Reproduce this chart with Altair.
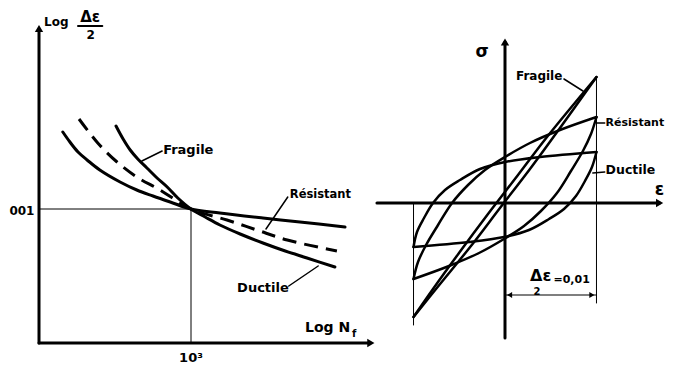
import altair as alt
import pandas as pd

# ---------------- Left panel: log(Δε/2) vs log Nf ----------------
LOGN_STEEP = [1.52, 1.66, 1.80, 1.95, 2.13, 2.33, 2.53, 2.74, 3.0, 3.28, 3.57, 3.97, 4.42, 4.86, 5.29, 5.84]
LOGE_STEEP = [-0.34, -0.60, -0.82, -1.00, -1.18, -1.38, -1.56, -1.78, -2.0, -2.16, -2.32, -2.50, -2.68, -2.84, -2.98, -3.16]

LOGN_FLAT = [0.47, 0.61, 0.77, 0.95, 1.20, 1.60, 1.93, 2.25, 2.59, 3.0, 3.57, 4.42, 5.15, 6.04]
LOGE_FLAT = [-0.46, -0.66, -0.86, -1.02, -1.22, -1.46, -1.62, -1.74, -1.86, -2.0, -2.08, -2.18, -2.26, -2.36]

LOGN_DASH = [0.79, 1.16, 1.54, 1.93, 2.39, 3.0, 3.71, 4.30, 4.90, 5.88]
LOGE_DASH = [-0.20, -0.68, -1.06, -1.36, -1.62, -2.0, -2.22, -2.42, -2.62, -2.84]

REF_LOGN = 3.0      # 10^3
REF_LOGE = -2.0     # 0.01
AXIS_Y_BOTTOM = -4.68
AXIS_Y_TOP = 1.56
AXIS_X_RIGHT = 6.50

# ---------------- Right panel: σ vs ε loops ----------------
EPS_FRAG_UP = [-1.0, -0.710, -0.372, -0.055, 0.273, 0.601, 1.0]
SIG_FRAG_UP = [-570, -405, -215, -25, 170, 375, 630]
EPS_FRAG_DN = [1.0, 0.459, 0.142, -0.186, -0.503, -0.787, -1.0]
SIG_FRAG_DN = [630, 330, 140, -55, -250, -430, -570]

EPS_RES_UP = [-1.0, -0.951, -0.863, -0.732, -0.579, -0.404, -0.219, 0.0, 0.273, 0.601, 1.0]
SIG_RES_UP = [-380, -295, -210, -110, 0, 90, 165, 230, 300, 365, 430]
EPS_RES_DN = [1.0, 0.940, 0.852, 0.721, 0.568, 0.393, 0.208, -0.011, -0.284, -0.612, -1.0]
SIG_RES_DN = [430, 345, 260, 160, 50, -40, -115, -180, -250, -315, -380]

EPS_DUC_UP = [-1.0, -0.962, -0.885, -0.787, -0.656, -0.492, -0.273, 0.0, 0.383, 1.0]
SIG_DUC_UP = [-220, -145, -75, 0, 65, 115, 170, 205, 230, 255]
EPS_DUC_DN = [1.0, 0.951, 0.874, 0.776, 0.645, 0.481, 0.262, -0.011, -0.393, -1.0]
SIG_DUC_DN = [255, 180, 110, 35, -30, -80, -135, -170, -195, -220]

HALF_RANGE = 1.0          # Δε/2 = 0,01 (in %)
EPS_AXIS = [-1.40, 1.69]
SIG_AXIS = [-675, 805]

FONT = "DejaVu Sans"

X1 = alt.Scale(domain=[-0.612, 6.612], nice=False, zero=False)
Y1 = alt.Scale(domain=[-5.06, 2.02], nice=False, zero=False)
X2 = alt.Scale(domain=[-1.432, 1.760], nice=False, zero=False)
Y2 = alt.Scale(domain=[-795, 975], nice=False, zero=False)


def curve(xs, ys, xs_scale, ys_scale, width=3, dash=None, interp="catmull-rom"):
    df = pd.DataFrame({"x": xs, "y": ys, "i": list(range(len(xs)))})
    kw = dict(color="black", strokeWidth=width, interpolate=interp, strokeCap="round")
    if dash:
        kw["strokeDash"] = dash
        kw["strokeCap"] = "butt"
    return alt.Chart(df).mark_line(**kw).encode(
        x=alt.X("x:Q", scale=xs_scale, axis=None),
        y=alt.Y("y:Q", scale=ys_scale, axis=None),
        order="i:Q",
    )


def seg(x1, y1, x2, y2, xs, ys, width=1):
    return curve([x1, x2], [y1, y2], xs, ys, width=width, interp="linear")


def label(x, y, t, xs, ys, size=11, align="left", weight="bold", baseline="middle"):
    df = pd.DataFrame({"x": [x], "y": [y], "t": [t]})
    return alt.Chart(df).mark_text(
        font=FONT, fontSize=size, fontWeight=weight, align=align, baseline=baseline, color="black"
    ).encode(
        x=alt.X("x:Q", scale=xs, axis=None),
        y=alt.Y("y:Q", scale=ys, axis=None),
        text="t:N",
    )


def arrow(x, y, shape, xs, ys, size=70):
    df = pd.DataFrame({"x": [x], "y": [y]})
    return alt.Chart(df).mark_point(
        shape=shape, filled=True, size=size, color="black", opacity=1, strokeWidth=0
    ).encode(
        x=alt.X("x:Q", scale=xs, axis=None),
        y=alt.Y("y:Q", scale=ys, axis=None),
    )


left = alt.layer(
    # axes
    seg(0, AXIS_Y_BOTTOM, 0, AXIS_Y_TOP, X1, Y1, width=3),
    seg(0, AXIS_Y_BOTTOM, AXIS_X_RIGHT, AXIS_Y_BOTTOM, X1, Y1, width=3),
    arrow(0, AXIS_Y_TOP + 0.05, "triangle-up", X1, Y1),
    arrow(AXIS_X_RIGHT + 0.05, AXIS_Y_BOTTOM, "triangle-right", X1, Y1),
    # reference guides
    seg(0, REF_LOGE, REF_LOGN, REF_LOGE, X1, Y1, width=1),
    seg(REF_LOGN, REF_LOGE, REF_LOGN, AXIS_Y_BOTTOM, X1, Y1, width=1),
    # curves
    curve(LOGN_STEEP, LOGE_STEEP, X1, Y1, width=3),
    curve(LOGN_FLAT, LOGE_FLAT, X1, Y1, width=3),
    curve(LOGN_DASH, LOGE_DASH, X1, Y1, width=3, dash=[14, 8]),
    # leaders
    seg(2.43, -0.84, 2.03, -1.04, X1, Y1, width=1.5),
    seg(4.91, -1.76, 4.48, -2.40, X1, Y1, width=1.5),
    seg(4.93, -3.54, 5.51, -3.14, X1, Y1, width=1.5),
    # texts
    label(2.45, -0.82, "Fragile", X1, Y1, size=13),
    label(4.95, -1.72, "Résistant", X1, Y1, size=11.5),
    label(3.91, -3.58, "Ductile", X1, Y1, size=13),
    label(-0.09, -2.04, "001", X1, Y1, size=12, align="right"),
    label(3.0, -4.98, "10³", X1, Y1, size=13, align="center"),
    label(5.25, -4.38, "Log N", X1, Y1, size=14),
    label(6.18, -4.50, "f", X1, Y1, size=10),
    label(0.10, 1.74, "Log", X1, Y1, size=12),
    label(1.01, 1.84, "Δε", X1, Y1, size=15, align="center"),
    seg(0.77, 1.66, 1.25, 1.66, X1, Y1, width=2),
    label(1.02, 1.48, "2", X1, Y1, size=12, align="center"),
).properties(width=366, height=354)

right = alt.layer(
    # axes
    seg(EPS_AXIS[0], 0, EPS_AXIS[1], 0, X2, Y2, width=3),
    seg(0, SIG_AXIS[0], 0, SIG_AXIS[1], X2, Y2, width=3),
    arrow(EPS_AXIS[1], 0, "triangle-right", X2, Y2),
    arrow(0, SIG_AXIS[1], "triangle-up", X2, Y2),
    # range lines
    seg(-HALF_RANGE, 0, -HALF_RANGE, -610, X2, Y2, width=1),
    seg(HALF_RANGE, 630, HALF_RANGE, -500, X2, Y2, width=1),
    seg(0, -460, HALF_RANGE, -460, X2, Y2, width=1.2),
    arrow(0.05, -460, "triangle-left", X2, Y2, size=35),
    arrow(HALF_RANGE - 0.05, -460, "triangle-right", X2, Y2, size=35),
    # loops
    curve(EPS_FRAG_UP, SIG_FRAG_UP, X2, Y2, width=2.5),
    curve(EPS_FRAG_DN, SIG_FRAG_DN, X2, Y2, width=2.5),
    curve(EPS_RES_UP, SIG_RES_UP, X2, Y2, width=2.5),
    curve(EPS_RES_DN, SIG_RES_DN, X2, Y2, width=2.5),
    curve(EPS_DUC_UP, SIG_DUC_UP, X2, Y2, width=2.5),
    curve(EPS_DUC_DN, SIG_DUC_DN, X2, Y2, width=2.5),
    # leaders
    seg(0.645, 620, 0.852, 560, X2, Y2, width=1.5),
    seg(1.0, 400, 1.09, 400, X2, Y2, width=1.5),
    seg(0.96, 150, 1.09, 155, X2, Y2, width=1.5),
    # texts
    label(0.12, 635, "Fragile", X2, Y2, size=12),
    label(1.10, 400, "Résistant", X2, Y2, size=11),
    label(1.10, 165, "Ductile", X2, Y2, size=12.5),
    label(-0.25, 755, "σ", X2, Y2, size=17, align="center"),
    label(1.69, 65, "ε", X2, Y2, size=17, align="center"),
    label(0.39, -365, "Δε", X2, Y2, size=16, align="center"),
    label(0.35, -445, "2", X2, Y2, size=10, align="center"),
    label(0.53, -385, "=0,01", X2, Y2, size=11),
).properties(width=292, height=354)

chart = alt.hconcat(left, right, spacing=0, bounds="flush").properties(
    padding=0
).configure_view(stroke=None)

chart.save("out.html", embed_options={"renderer": "svg", "actions": False})
